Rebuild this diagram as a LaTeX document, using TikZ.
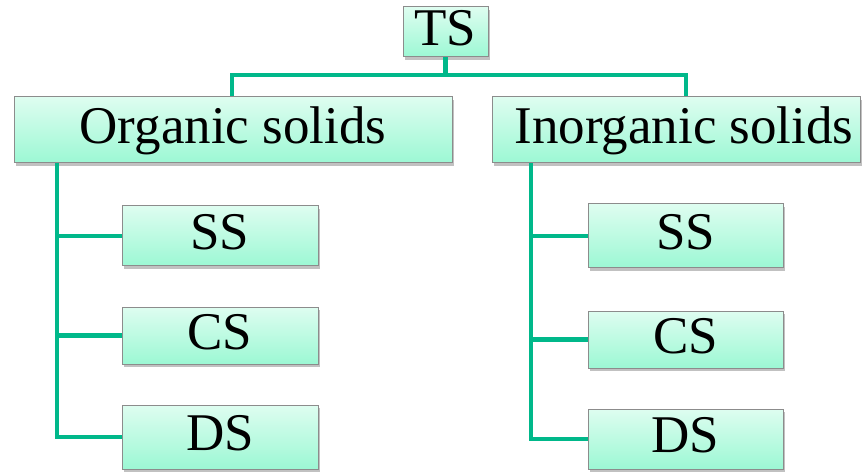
\documentclass[tikz,border=0pt]{standalone}
\usepackage{fontspec}
\setmainfont{Liberation Serif}
\usetikzlibrary{shadows}
\definecolor{linkgreen}{RGB}{0,184,138}
\definecolor{boxtop}{RGB}{222,253,240}
\definecolor{boxbot}{RGB}{156,248,212}
\definecolor{boxline}{RGB}{140,140,140}
\tikzset{
  solidbox/.style={draw=boxline, line width=1pt, top color=boxtop, bottom color=boxbot,
    inner sep=0pt, align=center, font=\fontsize{53}{53}\selectfont,
    text height=37pt, text depth=10pt,
    drop shadow={shadow xshift=2pt, shadow yshift=-3pt, opacity=0.35, fill=black!70}},
  link/.style={draw=linkgreen, line width=4.5pt}
}
\begin{document}
\begin{tikzpicture}[x=1pt,y=-1pt]
\useasboundingbox (0,0) rectangle (865,473);
% boxes
\node[solidbox, minimum width=85pt, minimum height=50pt] (ts) at (445.5,32) {TS};
\node[solidbox, minimum width=438pt, minimum height=66pt] (org) at (233,130) {Organic solids};
\node[solidbox, minimum width=368pt, minimum height=66pt] (inorg) at (676,130) {\hspace*{16pt}Inorganic solids};
\node[solidbox, minimum width=196pt, minimum height=60pt] (lss) at (220,236) {SS};
\node[solidbox, minimum width=196pt, minimum height=57pt] (lcs) at (220,335.5) {CS};
\node[solidbox, minimum width=196pt, minimum height=64pt] (lds) at (220,437) {DS};
\node[solidbox, minimum width=195pt, minimum height=64pt] (rss) at (685.5,236) {SS};
\node[solidbox, minimum width=195pt, minimum height=57pt] (rcs) at (685.5,339.5) {CS};
\node[solidbox, minimum width=195pt, minimum height=60pt] (rds) at (685.5,439) {DS};
% connector points
\coordinate (hub) at (445.5,75);
\coordinate (hl) at (232,75);
\coordinate (hr) at (686,75);
\coordinate (lbus) at (57,163);
\coordinate (rbus) at (531,163);
% connectors
\draw[link] (ts.south) -- (hub);
\draw[link, line cap=rect] (hl) -- (hr);
\draw[link] (hl) -- (hl |- org.north);
\draw[link] (hr) -- (hr |- inorg.north);
\draw[link] (lbus) |- (lds.west);
\draw[link] (lbus |- lss.west) -- (lss.west);
\draw[link] (lbus |- lcs.west) -- (lcs.west);
\draw[link] (rbus) |- (rds.west);
\draw[link] (rbus |- rss.west) -- (rss.west);
\draw[link] (rbus |- rcs.west) -- (rcs.west);
\end{tikzpicture}
\end{document}
